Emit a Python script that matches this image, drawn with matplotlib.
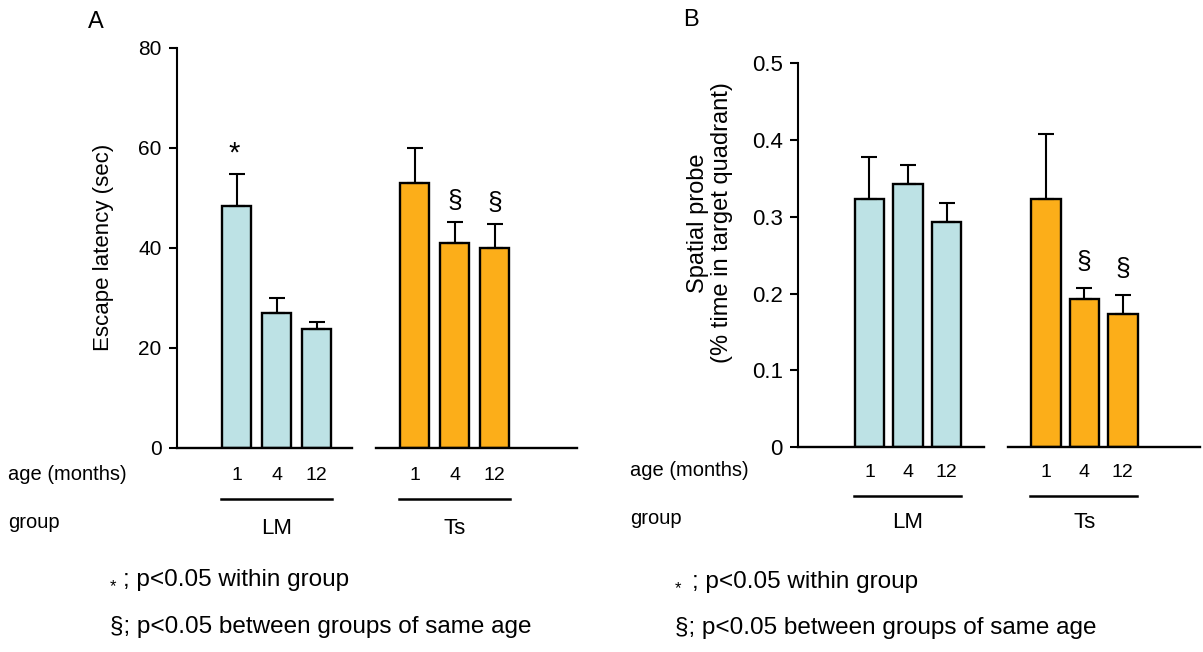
import matplotlib.pyplot as plt
import numpy as np

plt.rcParams['font.family'] = ['Liberation Sans', 'DejaVu Sans']

# age groups and genotype groups
ages = ['1', '4', '12']
groups = ['LM', 'Ts']

# A: escape latency (sec), mean and upper SEM
lat_lm = [48.4, 26.9, 23.7]
lat_lm_err = [6.3, 3.1, 1.4]
lat_ts = [52.9, 40.9, 40.0]
lat_ts_err = [7.1, 4.3, 4.7]

# B: spatial probe (fraction of time in target quadrant)
probe_lm = [0.323, 0.343, 0.293]
probe_lm_err = [0.055, 0.025, 0.025]
probe_ts = [0.323, 0.193, 0.173]
probe_ts_err = [0.085, 0.014, 0.025]

# significance marks above each bar
sig_lat_lm = ['*', '', '']
sig_lat_ts = ['', '§', '§']
sig_probe_lm = ['', '', '']
sig_probe_ts = ['', '§', '§']

C_LM = '#bde2e5'
C_TS = '#fcae19'

W, H = 1203, 652
fig = plt.figure(figsize=(W / 100, H / 100), dpi=100)


def px(x, y):
    return x / W, 1 - y / H


def panel(rect, lm, lm_err, ts, ts_err, sig_lm, sig_ts, ts_shift, xlim,
          base_lm_end, base_ts_start, width, ylim, yticks, yfmt,
          tick_fs, tick_pad, line_y, name_y, sig_off):
    ax = fig.add_axes(rect)
    x_lm = np.arange(3)
    x_ts = np.arange(3) + ts_shift
    for x, v, e, c in [(x_lm, lm, lm_err, C_LM), (x_ts, ts, ts_err, C_TS)]:
        ax.bar(x, v, width=width, color=c, edgecolor='black', linewidth=1.7,
               zorder=2)
        ax.errorbar(x, v, yerr=[np.zeros(3), e], fmt='none', ecolor='black',
                    elinewidth=1.5, capsize=5.5, capthick=1.5, zorder=3)
    # marks
    for x, v, e, s in zip(np.r_[x_lm, x_ts], lm + ts, lm_err + ts_err,
                          sig_lm + sig_ts):
        if s:
            ax.annotate(s, (x, v + e), xytext=(-2 if s == '*' else 0, sig_off),
                        textcoords='offset points', ha='center', va='center',
                        fontsize=21 if s == '*' else 19)
    ax.set_xlim(*xlim)
    ax.set_ylim(*ylim)
    ax.set_yticks(yticks)
    ax.set_yticklabels([yfmt(t) for t in yticks])
    for s in ['top', 'right', 'bottom']:
        ax.spines[s].set_visible(False)
    ax.spines['left'].set_linewidth(1.5)
    ax.tick_params(axis='y', length=6, width=1.5, labelsize=tick_fs, pad=5)
    # split baseline
    ax.plot([xlim[0], base_lm_end], [0, 0], color='black', lw=1.7,
            clip_on=False, zorder=4)
    ax.plot([base_ts_start, xlim[1]], [0, 0], color='black', lw=1.7,
            clip_on=False, zorder=4)
    # age labels
    ax.set_xticks(np.r_[x_lm, x_ts])
    ax.set_xticklabels(ages * 2)
    ax.tick_params(axis='x', length=0, labelsize=14, pad=tick_pad)
    # group underline and names
    tr = ax.get_xaxis_transform()
    for x, g in [(x_lm, groups[0]), (x_ts, groups[1])]:
        ax.plot([x[0] - 0.4, x[-1] + 0.38], [line_y, line_y], color='black',
                lw=1.8, transform=tr, clip_on=False)
        ax.text(x[1], name_y, g, transform=tr, ha='center', va='center',
                fontsize=16)
    return ax


# panel A
panel([177 / W, 1 - 447.7 / H, 400 / W, 400 / H],
      lat_lm, lat_lm_err, lat_ts, lat_ts_err, sig_lat_lm, sig_lat_ts,
      4.45, (-1.4875, 8.5125), 2.875, 3.49, 0.725,
      (0, 80), [0, 20, 40, 60, 80], lambda t: f'{t:g}',
      15, 14, -0.128, -0.201, 15)

# panel B
panel([798 / W, 1 - 447.3 / H, 402 / W, 384 / H],
      probe_lm, probe_lm_err, probe_ts, probe_ts_err, sig_probe_lm,
      sig_probe_ts, 4.58, (-1.857, 8.584), 2.974, 3.597, 0.766,
      (0, 0.5), [0, 0.1, 0.2, 0.3, 0.4, 0.5], lambda t: f'{t:g}',
      16, 12, -0.127, -0.197, 19)

# panel letters
fig.text(*px(88, 22), 'A', fontsize=17, va='center', ha='left')
fig.text(*px(683, 20), 'B', fontsize=17, va='center', ha='left')

# axis titles
fig.text(*px(103, 247), 'Escape latency (sec)', rotation=90, fontsize=16,
         ha='center', va='center')
fig.text(*px(710, 223), 'Spatial probe\n(% time in target quadrant)',
         rotation=90, fontsize=17, ha='center', va='center',
         multialignment='center', linespacing=1.1)

# row headers below the axes
for x0, ya, yg in [(8, 474, 523), (630, 470, 518)]:
    fig.text(*px(x0, ya), 'age (months)', fontsize=14.5, va='center')
    fig.text(*px(x0, yg), 'group', fontsize=14.5, va='center')

# footnotes
for xs, xt, y1, y2 in [(110, 123, 580, 627), (675, 692, 582, 628)]:
    fig.text(*px(xs, y1 + 7), '*', fontsize=12, va='center')
    fig.text(*px(xt, y1), '; p<0.05 within group', fontsize=17.5,
             va='center')
    fig.text(*px(xs, y2), '§; p<0.05 between groups of same age',
             fontsize=17.5, va='center')

fig.savefig('out.png', dpi=100)
